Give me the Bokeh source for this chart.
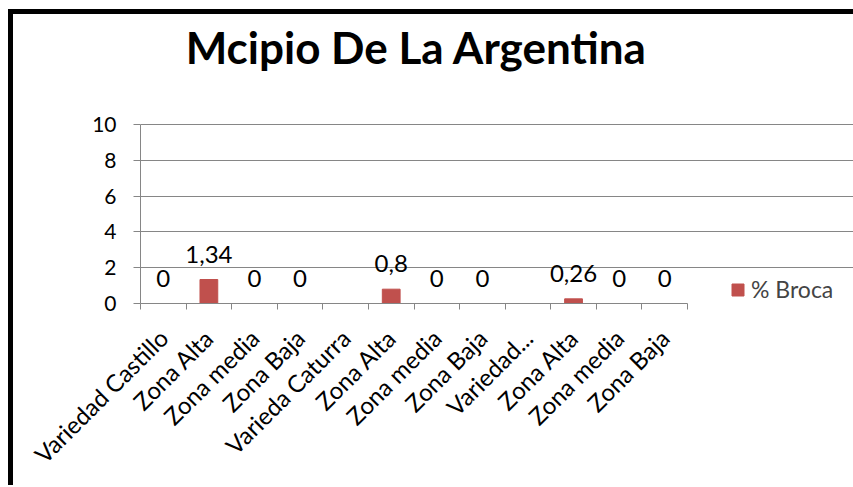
import math
from bokeh.plotting import figure
from bokeh.models import (Range1d, FixedTicker, CustomJSTickFormatter, Label,
                          Legend, LegendItem, ColumnDataSource)
from bokeh.core.properties import value
from bokeh.embed import file_html
from bokeh.resources import INLINE

# ---- data ----
categories = ["Variedad Castillo", "Zona Alta", "Zona media", "Zona Baja",
              "Varieda Caturra", "Zona Alta", "Zona media", "Zona Baja",
              "Variedad...", "Zona Alta", "Zona media", "Zona Baja"]
broca = [0, 1.34, 0, 0, None, 0.8, 0, 0, None, 0.26, 0, 0]
y_ticks = [0, 2, 4, 6, 8, 10]
title_text = "Mcipio De La Argentina"
series_name = "% Broca"

BAR = "#C0504D"
GRID = "#868686"
FONT = "Lato"

# ---- layout (pixels) ----
PLOT_W, PLOT_H = 547, 179          # category area / value area in px
FRAME_W, FRAME_H = 713, 289        # frame also hosts title and legend
n = len(categories)
y_max = y_ticks[-1]

xs, tops, labels = [], [], []
for i, v in enumerate(broca):
    if v is None:
        continue
    xs.append(i + 0.5)
    tops.append(v)
    labels.append(f"{v:g}".replace(".", ","))
src = ColumnDataSource(dict(x=xs, top=tops, label=labels))

p = figure(frame_width=FRAME_W, frame_height=FRAME_H,
           x_range=Range1d(0, n * FRAME_W / PLOT_W),
           y_range=Range1d(0, y_max * FRAME_H / PLOT_H),
           output_backend="svg", toolbar_location=None,
           min_border_left=127, min_border_right=0,
           min_border_top=0, min_border_bottom=182)
p.styles = {"margin-left": "8px", "margin-top": "9px",
            "border-left": "5px solid black", "border-top": "5px solid black"}
p.outline_line_color = None
p.background_fill_color = "white"
p.border_fill_color = "white"

bars = p.vbar(x="x", top="top", width=0.39, fill_color=BAR, line_color=BAR, source=src)
p.text(x="x", y="top", text="label", source=src,
       text_font=value(FONT), text_font_size="24px", text_color="black",
       text_align="center", text_baseline="middle", y_offset=-25.5)

# y axis
p.yaxis.ticker = FixedTicker(ticks=y_ticks)
p.yaxis.bounds = (0, y_max)
p.yaxis.axis_line_color = GRID
p.yaxis.major_tick_line_color = GRID
p.yaxis.major_tick_out = 7
p.yaxis.major_tick_in = 0
p.yaxis.minor_tick_line_color = None
p.yaxis.major_label_text_font = FONT
p.yaxis.major_label_text_font_size = "21px"
p.yaxis.major_label_text_color = "black"
p.yaxis.major_label_standoff = 17

# x axis
centers = [i + 0.5 for i in range(n)]
bounds = [i for i in range(n + 1)]
p.xaxis.ticker = FixedTicker(ticks=centers, minor_ticks=bounds)
p.xaxis.bounds = (0, n)
p.xaxis.formatter = CustomJSTickFormatter(args=dict(labels=categories),
                                          code="return labels[Math.floor(tick)];")
p.xaxis.axis_line_color = GRID
p.xaxis.major_tick_out = 0
p.xaxis.major_tick_in = 0
p.xaxis.minor_tick_out = 6
p.xaxis.minor_tick_in = 0
p.xaxis.minor_tick_line_color = GRID
p.xaxis.major_label_orientation = math.pi / 4
p.xaxis.major_label_text_font = FONT
p.xaxis.major_label_text_font_size = "24px"
p.xaxis.major_label_text_color = "black"
p.xaxis.major_label_standoff = 24

p.xgrid.visible = False
p.ygrid.grid_line_color = GRID
p.ygrid.grid_line_width = 1
p.ygrid.bounds = (0, n)

title = Label(x=276, y=257, x_units="screen", y_units="screen", text=title_text,
              text_font=FONT, text_font_style="bold", text_font_size="44px",
              text_align="center", text_baseline="alphabetic", text_color="black")
p.add_layout(title)

legend = Legend(items=[LegendItem(label=series_name, renderers=[bars])],
                location=(590, 0), label_text_font=FONT, label_text_font_size="23px",
                glyph_width=15, glyph_height=15, label_height=15, label_standoff=6,
                padding=0, margin=0, spacing=0, border_line_color=None,
                background_fill_alpha=0)
p.add_layout(legend)

open("out.html", "w").write(file_html(p, INLINE))
